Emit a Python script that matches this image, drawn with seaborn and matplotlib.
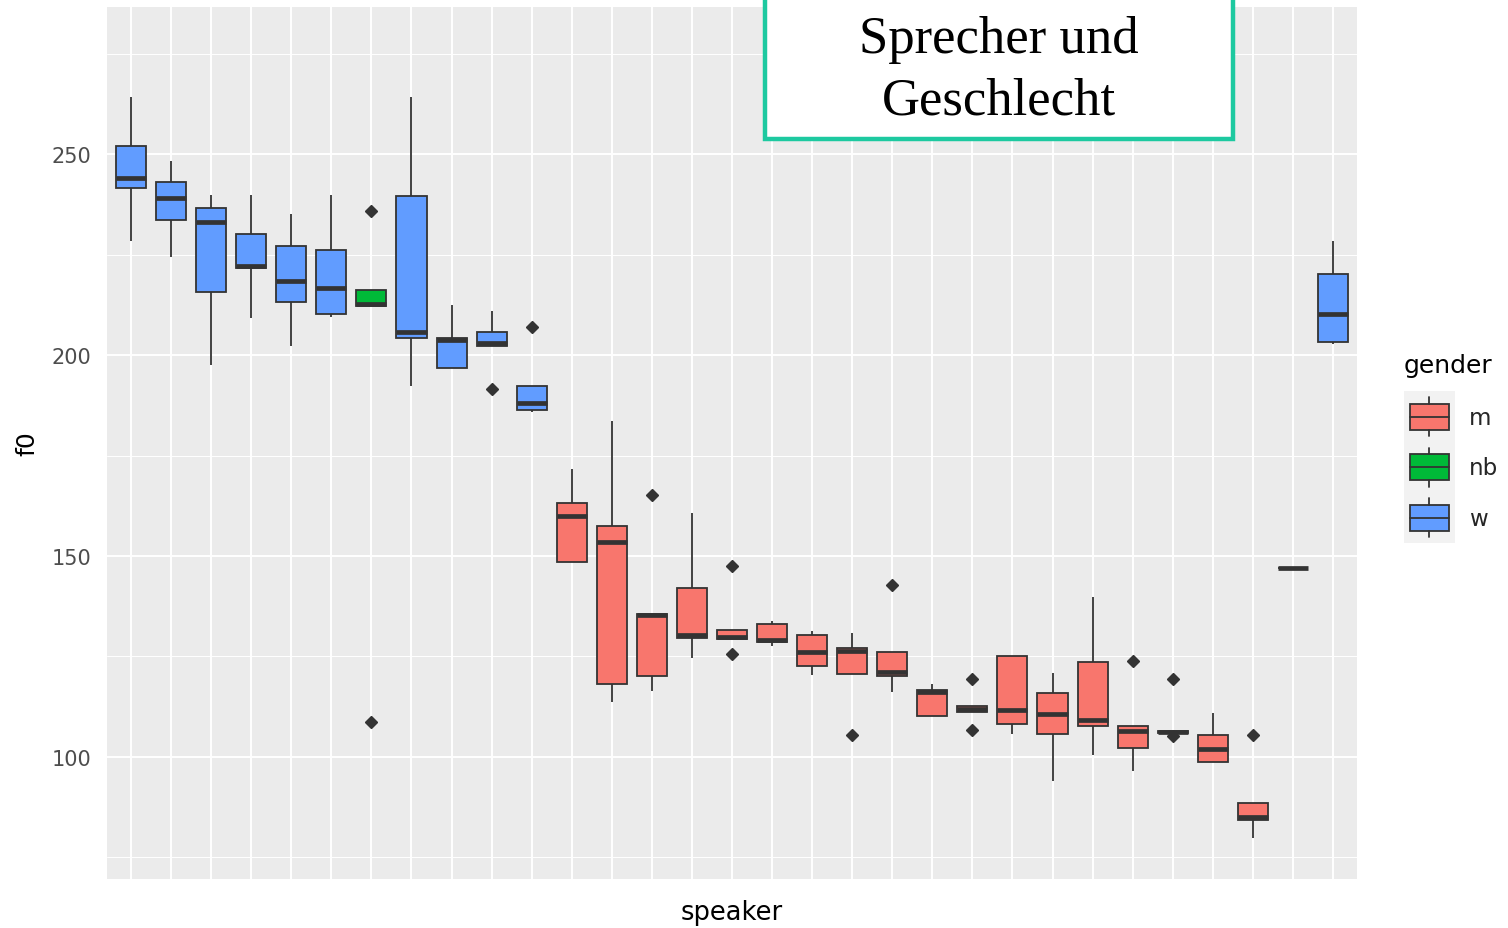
import numpy as np
import pandas as pd
import seaborn as sns
import matplotlib
matplotlib.use("Agg")
import matplotlib.pyplot as plt
from matplotlib.patches import Rectangle, Patch
from matplotlib.lines import Line2D
from matplotlib.legend_handler import HandlerBase
from matplotlib.ticker import FixedLocator

# ---- per-speaker f0 summaries (Hz) ----
speakers = [f"S{i:02d}" for i in range(1, 32)]
gender = ["w", "w", "w", "w", "w", "w", "nb", "w", "w", "w", "w",
          "m", "m", "m", "m", "m", "m", "m", "m", "m", "m", "m",
          "m", "m", "m", "m", "m", "m", "m", "m", "w"]
whisker_low = [228.4, 224.5, 197.6, 209.1, 202.2, 209.5, 212.2, 192.2, 196.8, 202.2, 185.7,
               148.4, 113.6, 116.5, 124.6, 129.3, 127.5, 120.5, 120.6, 116.1, 110.3, 111.3,
               105.7, 94.1, 100.6, 96.6, 106.0, 98.7, 79.8, 147.0, 202.7]
q1 = [241.5, 233.6, 215.7, 221.6, 213.3, 210.1, 212.2, 204.2, 196.8, 202.2, 186.3,
      148.4, 118.2, 120.2, 129.6, 129.3, 128.5, 122.7, 120.6, 120.2, 110.3, 111.3,
      108.2, 105.7, 107.8, 102.2, 106.0, 98.7, 84.3, 147.0, 203.3]
median = [244.0, 239.1, 233.2, 222.2, 218.3, 216.7, 212.8, 205.8, 203.7, 202.9, 188.0,
          160.0, 153.6, 135.2, 130.4, 129.8, 129.2, 126.2, 126.3, 121.1, 116.2, 111.9,
          111.8, 110.8, 109.2, 106.4, 106.3, 101.9, 85.0, 147.0, 210.2]
q3 = [252.1, 243.1, 236.6, 230.2, 227.2, 226.2, 216.2, 239.6, 204.2, 205.8, 192.4,
      163.1, 157.5, 135.6, 142.1, 131.6, 133.2, 130.3, 127.2, 126.2, 116.7, 112.8,
      125.2, 115.9, 123.7, 107.8, 106.5, 105.4, 88.5, 147.0, 220.1]
whisker_high = [264.1, 248.3, 239.8, 239.8, 235.2, 239.8, 216.2, 264.1, 212.4, 210.9, 192.4,
                171.6, 183.6, 135.6, 160.6, 131.6, 133.8, 131.3, 130.8, 126.2, 118.2, 112.8,
                125.2, 120.8, 139.7, 107.8, 106.5, 110.9, 88.5, 147.0, 228.3]
outliers = [[], [], [], [], [], [], [235.9, 108.7], [], [], [191.5], [207.0],
            [], [], [165.2], [], [147.4, 125.6], [], [], [105.5], [142.9], [], [119.4, 106.8],
            [], [], [], [124.0], [119.4, 105.1], [], [105.5], [], []]

gender_order = ["m", "nb", "w"]
gender_colors = {"m": "#F8766D", "nb": "#00BA38", "w": "#619CFF"}

# Expand each summary into a sample whose quartiles, whisker ends and
# outliers reproduce the summary under the 1.5*IQR rule.
rows = []
for spk, g, lo, a, m, b, hi, outs in zip(speakers, gender, whisker_low, q1, median,
                                          q3, whisker_high, outliers):
    vals = [lo] + [a] * 20 + [m] * 20 + [b] * 20 + [hi] + list(outs)
    rows += [(spk, g, v) for v in vals]
df = pd.DataFrame(rows, columns=["speaker", "gender", "f0"])

# ---- style ----
sns.set_theme(style="darkgrid", rc={
    "axes.facecolor": "#EBEBEB",
    "grid.color": "white",
    "figure.facecolor": "white",
})
plt.rcParams["font.family"] = ["DejaVu Sans"]

W, H = 1508, 929
fig = plt.figure(figsize=(W / 100, H / 100), dpi=100)
ax = fig.add_axes([107 / W, 1 - 880 / H, (1357 - 107) / W, (880 - 8) / H])

edge = "#333333"
sns.boxplot(
    data=df, x="speaker", y="f0", hue="gender", order=speakers,
    hue_order=gender_order, palette=gender_colors, saturation=1,
    dodge=False, width=0.75, whis=1.5, linecolor=edge, linewidth=1.3,
    fliersize=6, showcaps=False, legend=False, ax=ax,
    medianprops=dict(linewidth=3.4, color=edge, solid_capstyle="butt"),
    flierprops=dict(marker="D", markerfacecolor=edge, markeredgecolor=edge),
)

ax.set_xlim(-0.6, len(speakers) - 0.4)
ax.set_ylim(69.65, 286.57)
ax.set_yticks([100, 150, 200, 250])
ax.yaxis.set_minor_locator(FixedLocator([75, 125, 175, 225, 275]))
ax.set_xticks(range(len(speakers)))
ax.set_xticklabels([""] * len(speakers))

ax.grid(True, which="major", axis="both", color="white", linewidth=1.4)
ax.grid(True, which="minor", axis="y", color="white", linewidth=0.7)
ax.set_axisbelow(True)
for s in ax.spines.values():
    s.set_visible(False)

ax.tick_params(axis="both", which="major", direction="out", length=5, width=1.1,
               color=edge, labelcolor="#4D4D4D", labelsize=15, pad=6)
ax.tick_params(axis="both", which="minor", length=0)
ax.set_xlabel("speaker", fontsize=18.5, color="black", labelpad=3.5)
ax.set_ylabel("f0", fontsize=18, color="black", labelpad=9)


# ---- legend with boxplot-shaped keys on a shared grey strip ----
class BoxKeyHandler(HandlerBase):
    def create_artists(self, legend, orig_handle, xdescent, ydescent,
                       width, height, fontsize, trans):
        x0, y0 = -xdescent, -ydescent
        half_gap = legend.labelspacing * fontsize / 2
        bg = Rectangle((x0, y0 - half_gap), width, height + 2 * half_gap,
                       facecolor="#F2F2F2", edgecolor="none", transform=trans)
        bw, bh = width * 0.75, height * 0.62
        bx, by = x0 + (width - bw) / 2, y0 + (height - bh) / 2
        cx, cy = x0 + width / 2, y0 + height / 2
        box = Rectangle((bx, by), bw, bh, facecolor=orig_handle.get_facecolor(),
                        edgecolor=edge, linewidth=1.3, transform=trans)
        med = Line2D([bx, bx + bw], [cy, cy], color=edge, lw=1.3, transform=trans)
        wt = Line2D([cx, cx], [by + bh, y0 + height * 0.97], color=edge, lw=1.3,
                    transform=trans)
        wb = Line2D([cx, cx], [y0 + height * 0.03, by], color=edge, lw=1.3,
                    transform=trans)
        return [bg, box, med, wt, wb]


handles = [Patch(facecolor=gender_colors[g]) for g in gender_order]
leg = fig.legend(
    handles, gender_order, loc="upper left",
    bbox_to_anchor=(1404 / W, 1 - 397 / H), frameon=False,
    fontsize=16.5, handlelength=2.22, handleheight=2.4,
    labelspacing=0.4, handletextpad=0.6, borderpad=0, borderaxespad=0,
    handler_map={Patch: BoxKeyHandler()},
)
fig.text(1404 / W, 1 - 373 / H, "gender", ha="left", va="baseline",
         fontsize=18, color="black")

# ---- title box ----
fig.add_artist(Rectangle((765 / W, 1 - 140 / H), (1233 - 765) / W, 200 / H,
                         transform=fig.transFigure, facecolor="white",
                         edgecolor="#1DC9A0", linewidth=3.2, zorder=10))
fig.text(999 / W, 1 - 70.5 / H, "Sprecher und\nGeschlecht", ha="center", va="center",
         fontsize=38, family=["Liberation Serif", "DejaVu Serif"], color="black",
         linespacing=1.37, zorder=11)

fig.savefig("out.png", dpi=100)
